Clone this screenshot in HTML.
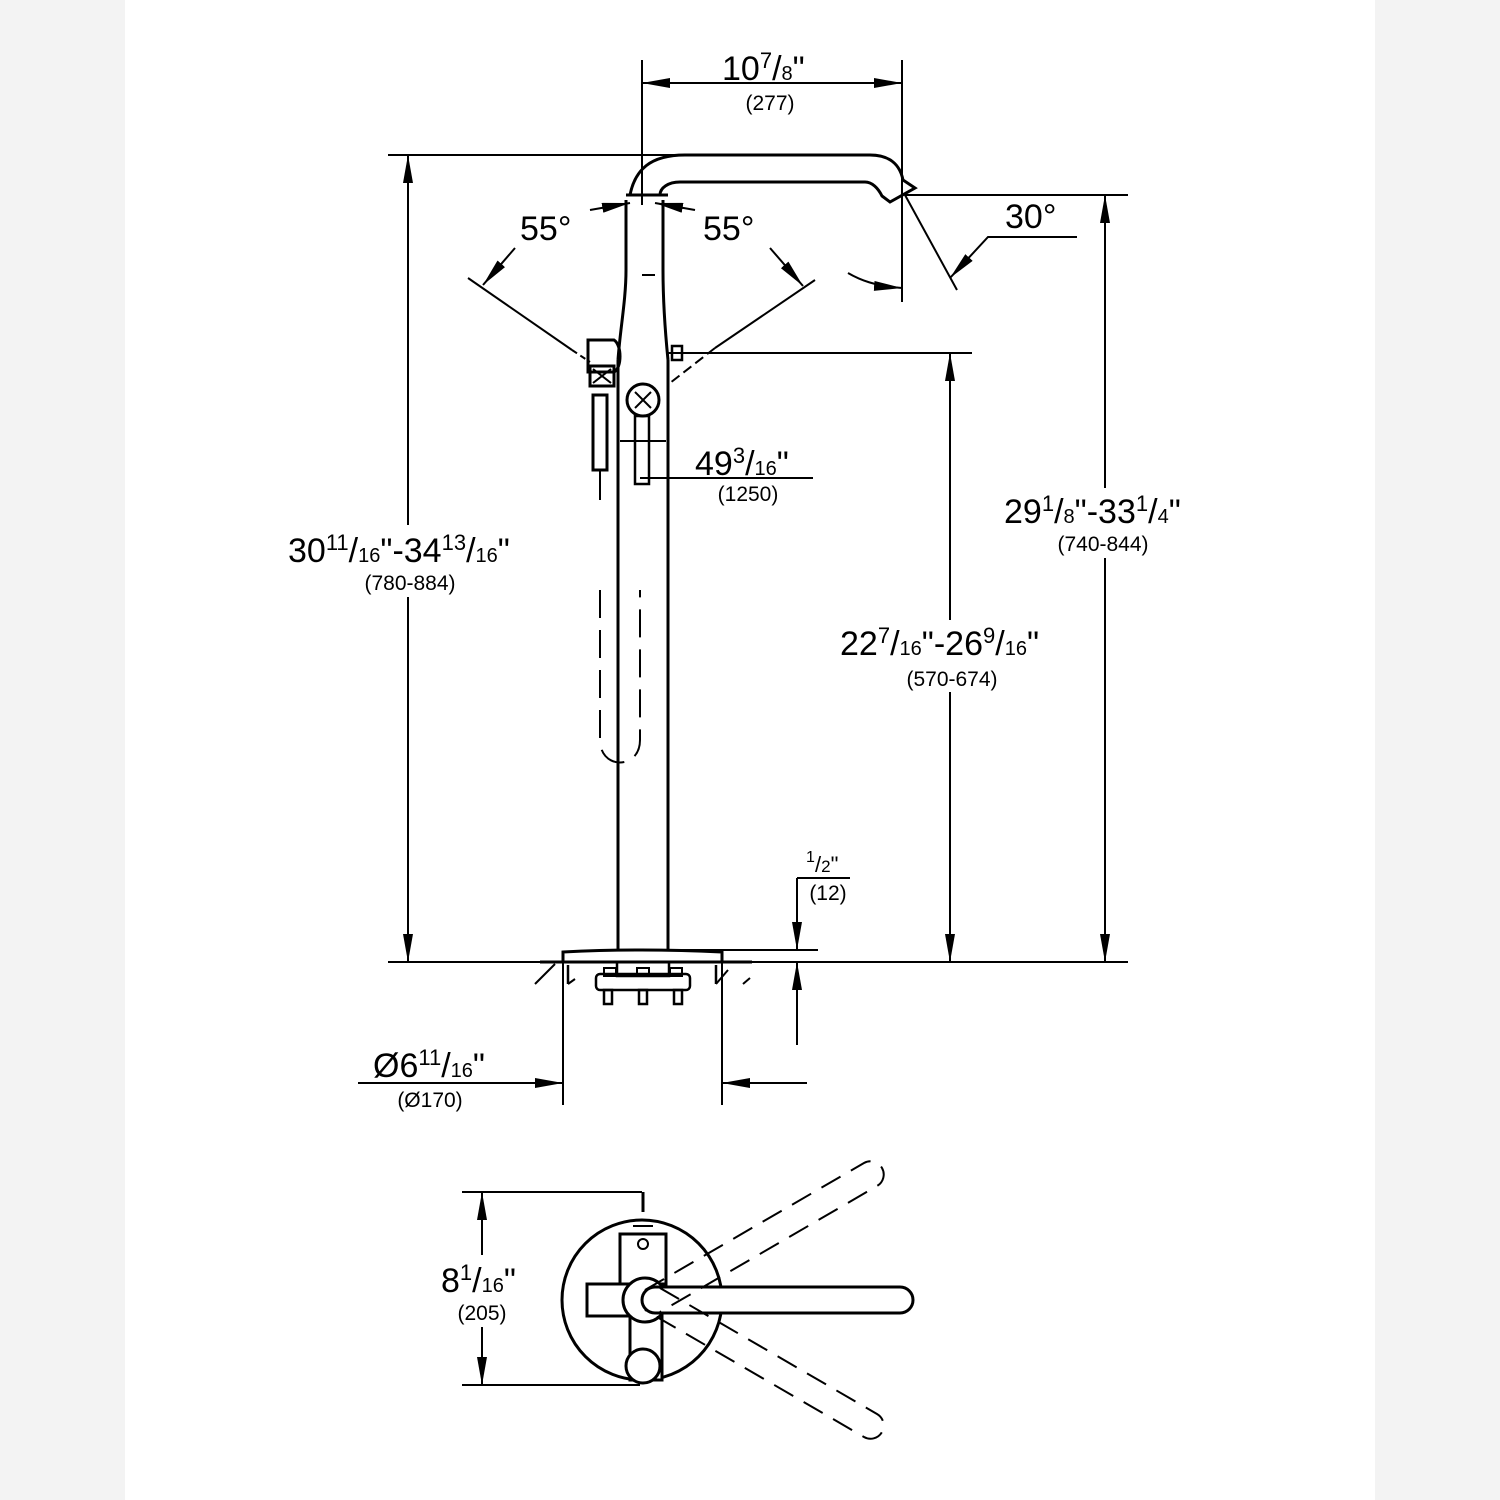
<!DOCTYPE html>
<html><head><meta charset="utf-8"><style>
html,body{margin:0;padding:0;background:#f3f3f3}
svg{display:block}
text{font-family:"Liberation Sans",sans-serif;fill:#000}
</style></head><body>
<svg width="1500" height="1500" viewBox="0 0 1500 1500" xmlns="http://www.w3.org/2000/svg">
<defs>
<marker id="a" viewBox="0 0 28 10" refX="28" refY="5" markerWidth="28" markerHeight="10" markerUnits="userSpaceOnUse" orient="auto"><path d="M0,0 L28,5 L0,10z" fill="#000"/></marker>
</defs>
<rect x="125" y="0" width="1250" height="1500" fill="#fff"/>
<g stroke="#000" fill="none" stroke-width="2">
<line x1="642" y1="60" x2="642" y2="205"/>
<line x1="902" y1="60" x2="902" y2="302"/>
<line x1="700" y1="83" x2="642" y2="83" marker-end="url(#a)"/>
<line x1="840" y1="83" x2="902" y2="83" marker-end="url(#a)"/>
<line x1="660" y1="83" x2="880" y2="83"/>
<line x1="388" y1="155" x2="680" y2="155"/>
<line x1="905" y1="195" x2="1128" y2="195"/>
<line x1="668" y1="353" x2="972" y2="353"/>
<line x1="388" y1="962" x2="1128" y2="962"/>
<line x1="668" y1="950" x2="818" y2="950"/>
<line x1="408" y1="300" x2="408" y2="155" marker-end="url(#a)"/>
<line x1="408" y1="300" x2="408" y2="962" marker-end="url(#a)"/>
<line x1="1105" y1="500" x2="1105" y2="195" marker-end="url(#a)"/>
<line x1="1105" y1="500" x2="1105" y2="962" marker-end="url(#a)"/>
<line x1="950" y1="600" x2="950" y2="353" marker-end="url(#a)"/>
<line x1="950" y1="600" x2="950" y2="962" marker-end="url(#a)"/>
<line x1="640" y1="478" x2="813" y2="478"/>
<path d="M630,195 C635,170 650,155 685,155 L870,155 C890,155 900,165 903,180 L915,188 L890,202 L882,196 C878,188 872,182 865,182 L680,182 C668,182 660,188 660,195" stroke-width="3"/>
<line x1="626" y1="195" x2="668" y2="195" stroke-width="3"/>
<path d="M626,200 L626,270 C626,300 620,330 618,360 M663,200 L663,270 C663,300 665,330 668,360" stroke-width="3"/>
<line x1="642" y1="275" x2="655" y2="275"/>
<line x1="618" y1="360" x2="618" y2="950" stroke-width="3"/>
<line x1="668" y1="360" x2="668" y2="950" stroke-width="3"/>
<line x1="620" y1="441" x2="666" y2="441" stroke-width="2"/>
<path d="M588,340 L614,340 C622,345 622,368 614,372 L588,372 Z" stroke-width="3"/>
<rect x="590" y="366" width="24" height="20" stroke-width="3"/>
<path d="M593,369 L611,383 M611,369 L593,383"/>
<rect x="593" y="395" width="14" height="75" stroke-width="3"/>
<line x1="600" y1="470" x2="600" y2="500"/>
<circle cx="643" cy="400" r="16" stroke-width="3"/>
<path d="M635,392 L651,408 M651,392 L635,408"/>
<rect x="635" y="416" width="14" height="68" stroke-width="2.5"/>
<rect x="672" y="346" width="10" height="14" stroke-width="2.5"/>
<path d="M600,590 L600,740 C600,770 640,770 640,740 L640,590" stroke-dasharray="28,12"/>
<line x1="468" y1="278" x2="572" y2="350"/>
<line x1="572" y1="350" x2="590" y2="362" stroke-dasharray="6,4"/>
<line x1="815" y1="280" x2="715" y2="348"/>
<line x1="715" y1="348" x2="670" y2="383" stroke-dasharray="10,5"/>
<line x1="515" y1="248" x2="483" y2="285" marker-end="url(#a)"/>
<line x1="770" y1="248" x2="803" y2="286" marker-end="url(#a)"/>
<line x1="590" y1="210" x2="630" y2="203" marker-end="url(#a)"/>
<line x1="695" y1="210" x2="655" y2="203" marker-end="url(#a)"/>
<line x1="905" y1="195" x2="957" y2="290"/>
<path d="M848,273 C860,280 875,286 902,288" marker-end="url(#a)"/>
<path d="M1077,237 L988,237 L950,278" marker-end="url(#a)"/>
<path d="M563,962 L563,952 Q640,948 722,952 L722,962" stroke-width="3"/>
<line x1="540" y1="962" x2="752" y2="962" stroke-width="3"/>
<rect x="617" y="962" width="52" height="14" stroke-width="2.5"/>
<rect x="596" y="974" width="94" height="16" rx="4" stroke-width="2.5"/>
<rect x="604" y="968" width="12" height="8" stroke-width="2"/>
<rect x="637" y="968" width="12" height="8" stroke-width="2"/>
<rect x="670" y="968" width="12" height="8" stroke-width="2"/>
<rect x="604" y="990" width="8" height="14" stroke-width="2.5"/>
<rect x="639" y="990" width="8" height="14" stroke-width="2.5"/>
<rect x="674" y="990" width="8" height="14" stroke-width="2.5"/>
<line x1="568" y1="965" x2="568" y2="984" stroke-width="2.5"/><line x1="568" y1="984" x2="575" y2="979" stroke-width="2"/>
<line x1="716" y1="965" x2="716" y2="984" stroke-width="2.5"/><line x1="716" y1="984" x2="728" y2="970" stroke-width="2"/>
<line x1="535" y1="984" x2="555" y2="964"/>
<line x1="743" y1="984" x2="750" y2="978"/>
<line x1="563" y1="962" x2="563" y2="1105"/>
<line x1="722" y1="962" x2="722" y2="1105"/>
<line x1="358" y1="1083" x2="563" y2="1083" marker-end="url(#a)"/>
<line x1="807" y1="1083" x2="722" y2="1083" marker-end="url(#a)"/>
<line x1="850" y1="878" x2="797" y2="878"/>
<line x1="797" y1="878" x2="797" y2="950" marker-end="url(#a)"/>
<line x1="797" y1="1045" x2="797" y2="962" marker-end="url(#a)"/>
<line x1="462" y1="1192" x2="642" y2="1192"/>
<line x1="462" y1="1385" x2="640" y2="1385"/>
<line x1="482" y1="1260" x2="482" y2="1192" marker-end="url(#a)"/>
<line x1="482" y1="1320" x2="482" y2="1385" marker-end="url(#a)"/>
<circle cx="642" cy="1300" r="80" stroke-width="3"/>
<line x1="643" y1="1192" x2="643" y2="1212" stroke-width="3"/>
<rect x="620" y="1234" width="46" height="50" stroke-width="3"/>
<circle cx="643" cy="1244" r="5" stroke-width="2"/>
<line x1="633" y1="1226" x2="653" y2="1226" stroke-width="2"/>
<rect x="587" y="1284" width="45" height="32" fill="#fff" stroke-width="3"/>
<rect x="630" y="1300" width="32" height="80" fill="#fff" stroke-width="3"/>
<circle cx="643" cy="1366" r="17" fill="#fff" stroke-width="3"/>
<circle cx="645" cy="1300" r="22" fill="#fff" stroke-width="3"/>
<path d="M655,1287 L900,1287 A13,13 0 0 1 900,1313 L655,1313 A13,13 0 0 1 655,1287 Z" fill="#fff" stroke-width="3"/>
<g stroke-dasharray="22,12">
<path d="M645,1290 L864,1163 A13,13 0 0 1 877,1186 L660,1312"/>
<path d="M660,1288 L877,1414 A13,13 0 0 1 864,1437 L645,1310"/>
</g>
</g>
<!-- white masks behind labels on dimension lines -->
<g fill="#fff">
<rect x="285" y="525" width="260" height="72"/>
<rect x="1000" y="488" width="212" height="70"/>
<rect x="835" y="620" width="238" height="72"/>
<rect x="440" y="1255" width="90" height="72"/>
</g>
<g font-size="34">
<text x="722" y="80">10<tspan font-size="22" dy="-12">7</tspan><tspan dy="12">/</tspan><tspan font-size="20">8</tspan>"</text>
<text x="520" y="240">55°</text>
<text x="703" y="240">55°</text>
<text x="1005" y="228">30°</text>
<text x="695" y="475">49<tspan font-size="22" dy="-12">3</tspan><tspan dy="12">/</tspan><tspan font-size="20">16</tspan>"</text>
<text x="288" y="562">30<tspan font-size="22" dy="-12">11</tspan><tspan dy="12">/</tspan><tspan font-size="20">16</tspan>"-34<tspan font-size="22" dy="-12">13</tspan><tspan dy="12">/</tspan><tspan font-size="20">16</tspan>"</text>
<text x="1004" y="523">29<tspan font-size="22" dy="-12">1</tspan><tspan dy="12">/</tspan><tspan font-size="20">8</tspan>"-33<tspan font-size="22" dy="-12">1</tspan><tspan dy="12">/</tspan><tspan font-size="20">4</tspan>"</text>
<text x="840" y="655">22<tspan font-size="22" dy="-12">7</tspan><tspan dy="12">/</tspan><tspan font-size="20">16</tspan>"-26<tspan font-size="22" dy="-12">9</tspan><tspan dy="12">/</tspan><tspan font-size="20">16</tspan>"</text>
<text x="373" y="1077">Ø6<tspan font-size="22" dy="-12">11</tspan><tspan dy="12">/</tspan><tspan font-size="20">16</tspan>"</text>
<text x="441" y="1292">8<tspan font-size="22" dy="-12">1</tspan><tspan dy="12">/</tspan><tspan font-size="20">16</tspan>"</text>
</g>
<g font-size="21" text-anchor="middle">
<text x="770" y="110">(277)</text>
<text x="748" y="501">(1250)</text>
<text x="410" y="590">(780-884)</text>
<text x="1103" y="551">(740-844)</text>
<text x="952" y="686">(570-674)</text>
<text x="430" y="1107">(Ø170)</text>
<text x="482" y="1320">(205)</text>
<text x="828" y="900">(12)</text>
</g>
<text x="806" y="862" font-size="16" font-family="Liberation Sans">1</text>
<text x="815" y="872" font-size="22" font-family="Liberation Sans">/<tspan font-size="17">2</tspan>"</text>
</svg>
</body></html>
